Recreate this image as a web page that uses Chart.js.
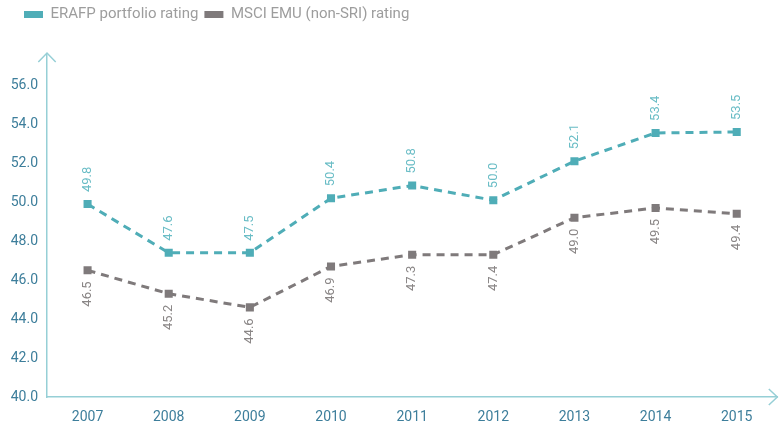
<!DOCTYPE html>
<html>
<head>
<meta charset="utf-8">
<script src="https://cdn.jsdelivr.net/npm/chart.js@4.4.1/dist/chart.umd.min.js"></script>
<style>
  html, body { margin: 0; padding: 0; background: #ffffff; }
  #wrap { width: 783px; height: 428px; position: relative; }
</style>
</head>
<body>
<div id="wrap"><canvas id="c"></canvas></div>
<script>
// ---- data ----
const years = ['2007', '2008', '2009', '2010', '2011', '2012', '2013', '2014', '2015'];
const erafpValues = [49.9, 47.4, 47.4, 50.2, 50.85, 50.1, 52.1, 53.55, 53.6];
const msciValues = [46.5, 45.3, 44.6, 46.7, 47.3, 47.3, 49.2, 49.7, 49.4];
const erafpLabels = ['49.8', '47.6', '47.5', '50.4', '50.8', '50.0', '52.1', '53.4', '53.5'];
const msciLabels = ['46.5', '45.2', '44.6', '46.9', '47.3', '47.4', '49.0', '49.5', '49.4'];
const seriesNames = ['ERAFP portfolio rating', 'MSCI EMU (non-SRI) rating'];
const yTickValues = [40, 42, 44, 46, 48, 50, 52, 54, 56];

// ---- styles ----
const FONT = 'Roboto, "Liberation Sans", sans-serif';
const TEAL = '#4fadb7';
const GREY = '#7f7a7b';
const TEAL_LABEL = '#6abdc6';
const GREY_LABEL = '#8a8686';
const AXIS = '#96cfd6';
const TICK = '#3d7e9b';
const LEGEND_TEXT = '#9d9d9d';
const LEGEND_SHIFT = 18;

const axisArrows = {
  id: 'axisArrows',
  afterDraw(chart) {
    const { ctx, chartArea: a } = chart;
    ctx.save();
    ctx.strokeStyle = AXIS;
    ctx.lineWidth = 1.5;
    ctx.lineJoin = 'miter';
    ctx.beginPath();
    ctx.moveTo(a.left - 8.7, a.top + 8);
    ctx.lineTo(a.left, a.top - 1);
    ctx.lineTo(a.left + 8.7, a.top + 8);
    ctx.moveTo(a.right - 8.5, a.bottom - 8);
    ctx.lineTo(a.right, a.bottom);
    ctx.lineTo(a.right - 8.5, a.bottom + 8);
    ctx.stroke();
    ctx.restore();
  }
};

const pointLabels = {
  id: 'pointLabels',
  afterDatasetsDraw(chart) {
    const ctx = chart.ctx;
    chart.data.datasets.forEach((ds, i) => {
      const meta = chart.getDatasetMeta(i);
      meta.data.forEach((pt, j) => {
        ctx.save();
        const above = ds.labelAbove;
        ctx.translate(pt.x, above ? pt.y - 12 : pt.y + 11);
        ctx.rotate(-Math.PI / 2);
        ctx.font = '13px ' + FONT;
        ctx.fillStyle = ds.labelColor;
        ctx.textAlign = above ? 'left' : 'right';
        ctx.textBaseline = 'middle';
        ctx.fillText(ds.pointTexts[j], 0, 0);
        ctx.restore();
      });
    });
  }
};

const legendSpacer = {
  id: 'legendSpacer',
  afterInit(chart) {
    const lg = chart.legend;
    if (!lg) return;
    const f = lg.fit;
    lg.fit = function () { f.call(this); this.height += 22; };
    const d = lg.draw;
    lg.draw = function (...args) {
      this.ctx.save();
      this.ctx.translate(LEGEND_SHIFT, 0);
      d.apply(this, args);
      this.ctx.restore();
    };
  }
};

new Chart(document.getElementById('c'), {
  type: 'line',
  data: {
    labels: years,
    datasets: [
      {
        label: seriesNames[0],
        data: erafpValues,
        pointTexts: erafpLabels,
        labelAbove: true,
        labelColor: TEAL_LABEL,
        borderColor: TEAL,
        backgroundColor: TEAL,
        borderWidth: 3,
        borderDash: [8, 6],
        pointStyle: 'rect',
        pointRadius: 5.7,
        pointBorderWidth: 0,
        pointBackgroundColor: TEAL,
        tension: 0
      },
      {
        label: seriesNames[1],
        data: msciValues,
        pointTexts: msciLabels,
        labelAbove: false,
        labelColor: GREY_LABEL,
        borderColor: GREY,
        backgroundColor: GREY,
        borderWidth: 3,
        borderDash: [8, 6],
        pointStyle: 'rect',
        pointRadius: 5.7,
        pointBorderWidth: 0,
        pointBackgroundColor: GREY,
        tension: 0
      }
    ]
  },
  options: {
    responsive: true,
    maintainAspectRatio: false,
    animation: false,
    devicePixelRatio: 1,
    layout: { padding: { left: 0, right: 2.5, top: 1, bottom: 0 } },
    plugins: {
      tooltip: { enabled: false },
      legend: {
        position: 'top',
        align: 'start',
        labels: {
          boxWidth: 19,
          boxHeight: 7,
          padding: 6,
          color: LEGEND_TEXT,
          font: { family: FONT, size: 15 },
          generateLabels(chart) {
            return Chart.defaults.plugins.legend.labels.generateLabels(chart).map(l =>
              Object.assign(l, { lineWidth: 0, lineDash: [], strokeStyle: 'rgba(0,0,0,0)' }));
          }
        }
      }
    },
    scales: {
      x: {
        offset: true,
        grid: { display: false, drawTicks: false },
        border: { display: true, color: AXIS, width: 1.5 },
        ticks: { color: TICK, padding: 12, font: { family: FONT, size: 14 } },
        afterFit(s) { s.height = 31; }
      },
      y: {
        min: 40,
        max: 57.6,
        grid: { display: false, drawTicks: false },
        border: { display: true, color: AXIS, width: 1.5 },
        afterBuildTicks(s) { s.ticks = yTickValues.map(v => ({ value: v })); },
        ticks: {
          color: TICK,
          padding: 9,
          font: { family: FONT, size: 14 },
          callback: v => Number(v).toFixed(1)
        },
        afterFit(s) { s.width = 47; }
      }
    }
  },
  plugins: [legendSpacer, pointLabels, axisArrows]
});
</script>
</body>
</html>
